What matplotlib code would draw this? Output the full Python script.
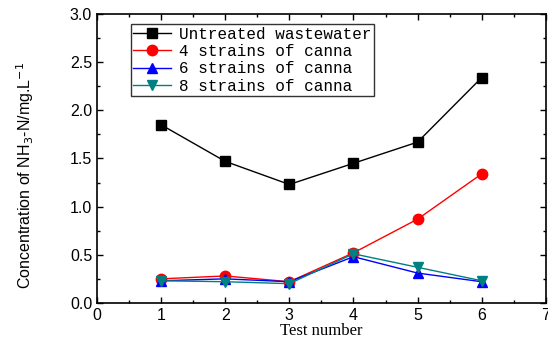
import matplotlib
matplotlib.use("Agg")
import matplotlib.pyplot as plt
from matplotlib.ticker import MultipleLocator

tests = [1, 2, 3, 4, 5, 6]
untreated = [1.85, 1.47, 1.23, 1.45, 1.67, 2.34]
strains4 = [0.25, 0.28, 0.22, 0.52, 0.87, 1.34]
strains6 = [0.23, 0.25, 0.22, 0.48, 0.31, 0.22]
strains8 = [0.23, 0.22, 0.20, 0.51, 0.37, 0.23]
labels = ["Untreated wastewater", "4 strains of canna", "6 strains of canna", "8 strains of canna"]

fig = plt.figure(figsize=(5.48, 3.51), dpi=100)
ax = fig.add_axes([0.177, 0.137, 0.819, 0.823])

ax.plot(tests, untreated, color="black", lw=1, marker="s", ms=6.5, label=labels[0])
ax.plot(tests, strains4, color="red", lw=1, marker="o", ms=7.5, label=labels[1])
ax.plot(tests, strains6, color="blue", lw=1, marker="^", ms=7.5, label=labels[2])
ax.plot(tests, strains8, color="#008080", lw=1, marker="v", ms=7.5, label=labels[3])

ax.set_xlim(0, 7)
ax.set_ylim(0, 3.0)
ax.xaxis.set_major_locator(MultipleLocator(1))
ax.xaxis.set_minor_locator(MultipleLocator(0.5))
ax.yaxis.set_major_locator(MultipleLocator(0.5))
ax.yaxis.set_minor_locator(MultipleLocator(0.25))
ax.yaxis.set_major_formatter(plt.FormatStrFormatter("%.1f"))
ax.tick_params(which="both", direction="in", top=True, right=True)
ax.tick_params(which="major", length=4, width=1, labelsize=11.5)
ax.tick_params(which="minor", length=2.5, width=1)
for lab in ax.get_xticklabels() + ax.get_yticklabels():
    lab.set_fontfamily("Liberation Sans")
for s in ax.spines.values():
    s.set_linewidth(1.2)

ax.set_xlabel("Test number", fontfamily="Liberation Serif", fontsize=12, labelpad=0)
ax.set_ylabel("Concentration of NH$_3$-N/mg.L$^{-1}$", fontfamily="Liberation Sans", fontsize=11.5)
ax.yaxis.set_label_coords(-0.135, 0.44)

leg = ax.legend(loc="upper left", bbox_to_anchor=(0.075, 0.965), prop={"family": "Liberation Mono", "size": 11.5},
                frameon=True, fancybox=False, edgecolor="black", handlelength=2.4, borderpad=0.15,
                labelspacing=0.15, handletextpad=0.5, borderaxespad=0)
leg.get_frame().set_linewidth(1)

fig.savefig("out.png", dpi=100)
